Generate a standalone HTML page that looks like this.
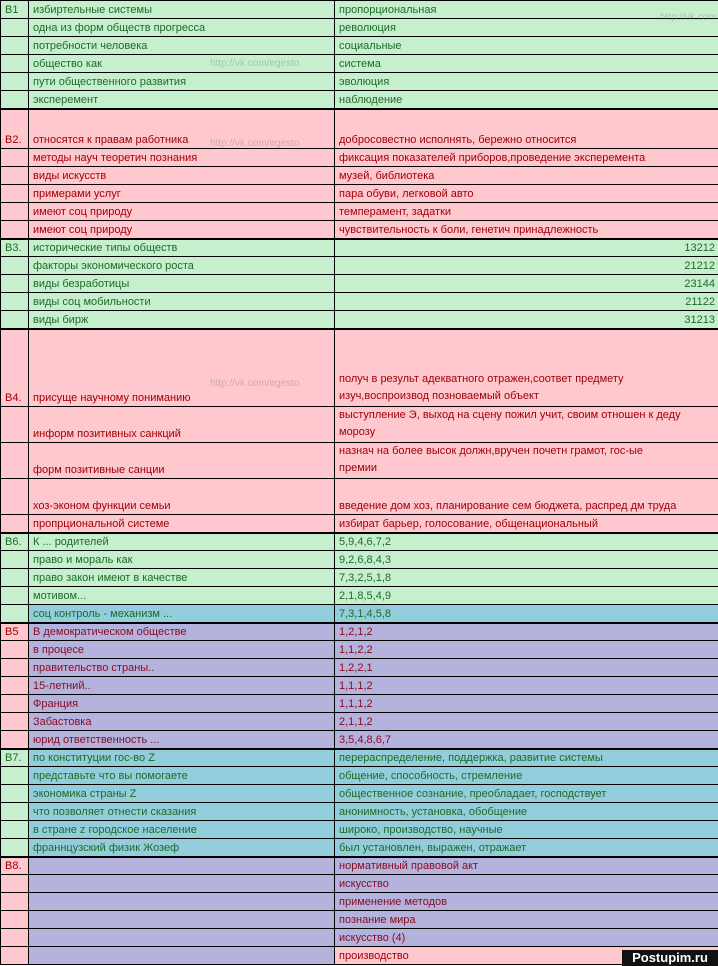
<!DOCTYPE html>
<html><head><meta charset="utf-8"><style>
body{margin:0;width:718px;height:966px;overflow:hidden;background:#fff;font-family:"Liberation Sans","DejaVu Sans",sans-serif;font-size:11px}
table{border-collapse:collapse;table-layout:fixed;width:718px;position:absolute;left:0;top:0}
td{border:1px solid #000;padding:0 0 1px 4px;vertical-align:bottom;white-space:nowrap;overflow:hidden;line-height:14px}
td.w{line-height:17px}
.g{background:#c6efce;color:#1e6b28}
.p{background:#ffc7ce;color:#9c0006}
.b{background:#92cddc;color:#1e6b28}
.v{background:#b3b3de;color:#8a0a1e}
.r{text-align:right;padding-right:3px}
tr.t td{border-top:2px solid #000}
.wm{position:absolute;color:rgba(140,140,140,.45);font-size:10px}
.logo{position:absolute;left:622px;top:950px;width:96px;height:16px;background:#111;color:#fff;font-weight:bold;font-size:13px;text-align:center;line-height:16px}
</style></head><body>
<table>
<colgroup><col style="width:28px"><col style="width:306px"><col style="width:384px"></colgroup>
<tr style="height:18px"><td class="g">B1</td><td class="g">избиртельные системы</td><td class="g">пропорциональная</td></tr>
<tr style="height:18px"><td class="g"></td><td class="g">одна из форм обществ прогресса</td><td class="g">революция</td></tr>
<tr style="height:18px"><td class="g"></td><td class="g">потребности человека</td><td class="g">социальные</td></tr>
<tr style="height:18px"><td class="g"></td><td class="g">общество как</td><td class="g">система</td></tr>
<tr style="height:18px"><td class="g"></td><td class="g">пути общественного развития</td><td class="g">эволюция</td></tr>
<tr style="height:18px"><td class="g"></td><td class="g">эксперемент</td><td class="g">наблюдение</td></tr>
<tr class="t" style="height:40px"><td class="p">B2.</td><td class="p">относятся к правам работника</td><td class="p">добросовестно исполнять, бережно относится</td></tr>
<tr style="height:18px"><td class="p"></td><td class="p">методы науч теоретич познания</td><td class="p">фиксация показателей приборов,проведение эксперемента</td></tr>
<tr style="height:18px"><td class="p"></td><td class="p">виды искусств</td><td class="p">музей, библиотека</td></tr>
<tr style="height:18px"><td class="p"></td><td class="p">примерами услуг</td><td class="p">пара обуви, легковой авто</td></tr>
<tr style="height:18px"><td class="p"></td><td class="p">имеют соц природу</td><td class="p">темперамент, задатки</td></tr>
<tr style="height:18px"><td class="p"></td><td class="p">имеют соц природу</td><td class="p">чувствительность к боли, генетич принадлежность</td></tr>
<tr class="t" style="height:18px"><td class="g">B3.</td><td class="g">исторические типы обществ</td><td class="g r">13212</td></tr>
<tr style="height:18px"><td class="g"></td><td class="g">факторы экономического роста</td><td class="g r">21212</td></tr>
<tr style="height:18px"><td class="g"></td><td class="g">виды безработицы</td><td class="g r">23144</td></tr>
<tr style="height:18px"><td class="g"></td><td class="g">виды соц мобильности</td><td class="g r">21122</td></tr>
<tr style="height:18px"><td class="g"></td><td class="g">виды бирж</td><td class="g r">31213</td></tr>
<tr class="t" style="height:78px"><td class="p">B4.</td><td class="p">присуще научному пониманию</td><td class="p w">получ в результ адекватного отражен,соответ предмету<br>изуч,воспроизвод позноваемый объект</td></tr>
<tr style="height:36px"><td class="p"></td><td class="p">информ позитивных санкций</td><td class="p w">выступление Э, выход на сцену пожил учит, своим отношен к деду<br>морозу</td></tr>
<tr style="height:36px"><td class="p"></td><td class="p">форм позитивные санции</td><td class="p w">назнач на более высок должн,вручен почетн грамот, гос-ые<br>премии</td></tr>
<tr style="height:36px"><td class="p"></td><td class="p">хоз-эконом функции семьи</td><td class="p">введение дом хоз, планирование сем бюджета, распред дм труда</td></tr>
<tr style="height:18px"><td class="p"></td><td class="p">пропрциональной системе</td><td class="p">избират барьер, голосование, общенациональный</td></tr>
<tr class="t" style="height:18px"><td class="g">B6.</td><td class="g">К ... родителей</td><td class="g">5,9,4,6,7,2</td></tr>
<tr style="height:18px"><td class="g"></td><td class="g">право и мораль как</td><td class="g">9,2,6,8,4,3</td></tr>
<tr style="height:18px"><td class="g"></td><td class="g">право закон имеют в качестве</td><td class="g">7,3,2,5,1,8</td></tr>
<tr style="height:18px"><td class="g"></td><td class="g">мотивом...</td><td class="g">2,1,8,5,4,9</td></tr>
<tr style="height:18px"><td class="g"></td><td class="b">соц контроль - механизм ...</td><td class="b">7,3,1,4,5,8</td></tr>
<tr class="t" style="height:18px"><td class="p">B5</td><td class="v">В демократическом обществе</td><td class="v">1,2,1,2</td></tr>
<tr style="height:18px"><td class="p"></td><td class="v">в процесе</td><td class="v">1,1,2,2</td></tr>
<tr style="height:18px"><td class="p"></td><td class="v">правительство страны..</td><td class="v">1,2,2,1</td></tr>
<tr style="height:18px"><td class="p"></td><td class="v">15-летний..</td><td class="v">1,1,1,2</td></tr>
<tr style="height:18px"><td class="p"></td><td class="v">Франция</td><td class="v">1,1,1,2</td></tr>
<tr style="height:18px"><td class="p"></td><td class="v">Забастовка</td><td class="v">2,1,1,2</td></tr>
<tr style="height:18px"><td class="p"></td><td class="v">юрид ответственность ...</td><td class="v">3,5,4,8,6,7</td></tr>
<tr class="t" style="height:18px"><td class="g">B7.</td><td class="b">по конституции гос-во Z</td><td class="b">перераспределение, поддержка, развитие системы</td></tr>
<tr style="height:18px"><td class="g"></td><td class="b">представьте что вы помогаете</td><td class="b">общение, способность, стремление</td></tr>
<tr style="height:18px"><td class="g"></td><td class="b">экономика страны Z</td><td class="b">общественное сознание, преобладает, господствует</td></tr>
<tr style="height:18px"><td class="g"></td><td class="b">что позволяет отнести сказания</td><td class="b">анонимность, установка, обобщение</td></tr>
<tr style="height:18px"><td class="g"></td><td class="b">в стране z городское население</td><td class="b">широко, производство, научные</td></tr>
<tr style="height:18px"><td class="g"></td><td class="b">франнцузский физик Жозеф</td><td class="b">был установлен, выражен, отражает</td></tr>
<tr class="t" style="height:18px"><td class="p">B8.</td><td class="v"></td><td class="v">нормативный правовой акт</td></tr>
<tr style="height:18px"><td class="p"></td><td class="v"></td><td class="v">искусство</td></tr>
<tr style="height:18px"><td class="p"></td><td class="v"></td><td class="v">применение методов</td></tr>
<tr style="height:18px"><td class="p"></td><td class="v"></td><td class="v">познание мира</td></tr>
<tr style="height:18px"><td class="p"></td><td class="v"></td><td class="v">искусство (4)</td></tr>
<tr style="height:18px"><td class="p"></td><td class="v"></td><td class="p">производство</td></tr>
</table>
<div class="wm" style="left:210px;top:58px">http://vk.com/egesto</div>
<div class="wm" style="left:210px;top:378px">http://vk.com/egesto</div>
<div class="wm" style="left:210px;top:138px">http://vk.com/egesto</div>
<div class="wm" style="left:660px;top:12px">http://vk.com</div>
<div class="logo">Postupim.ru</div>
</body></html>
